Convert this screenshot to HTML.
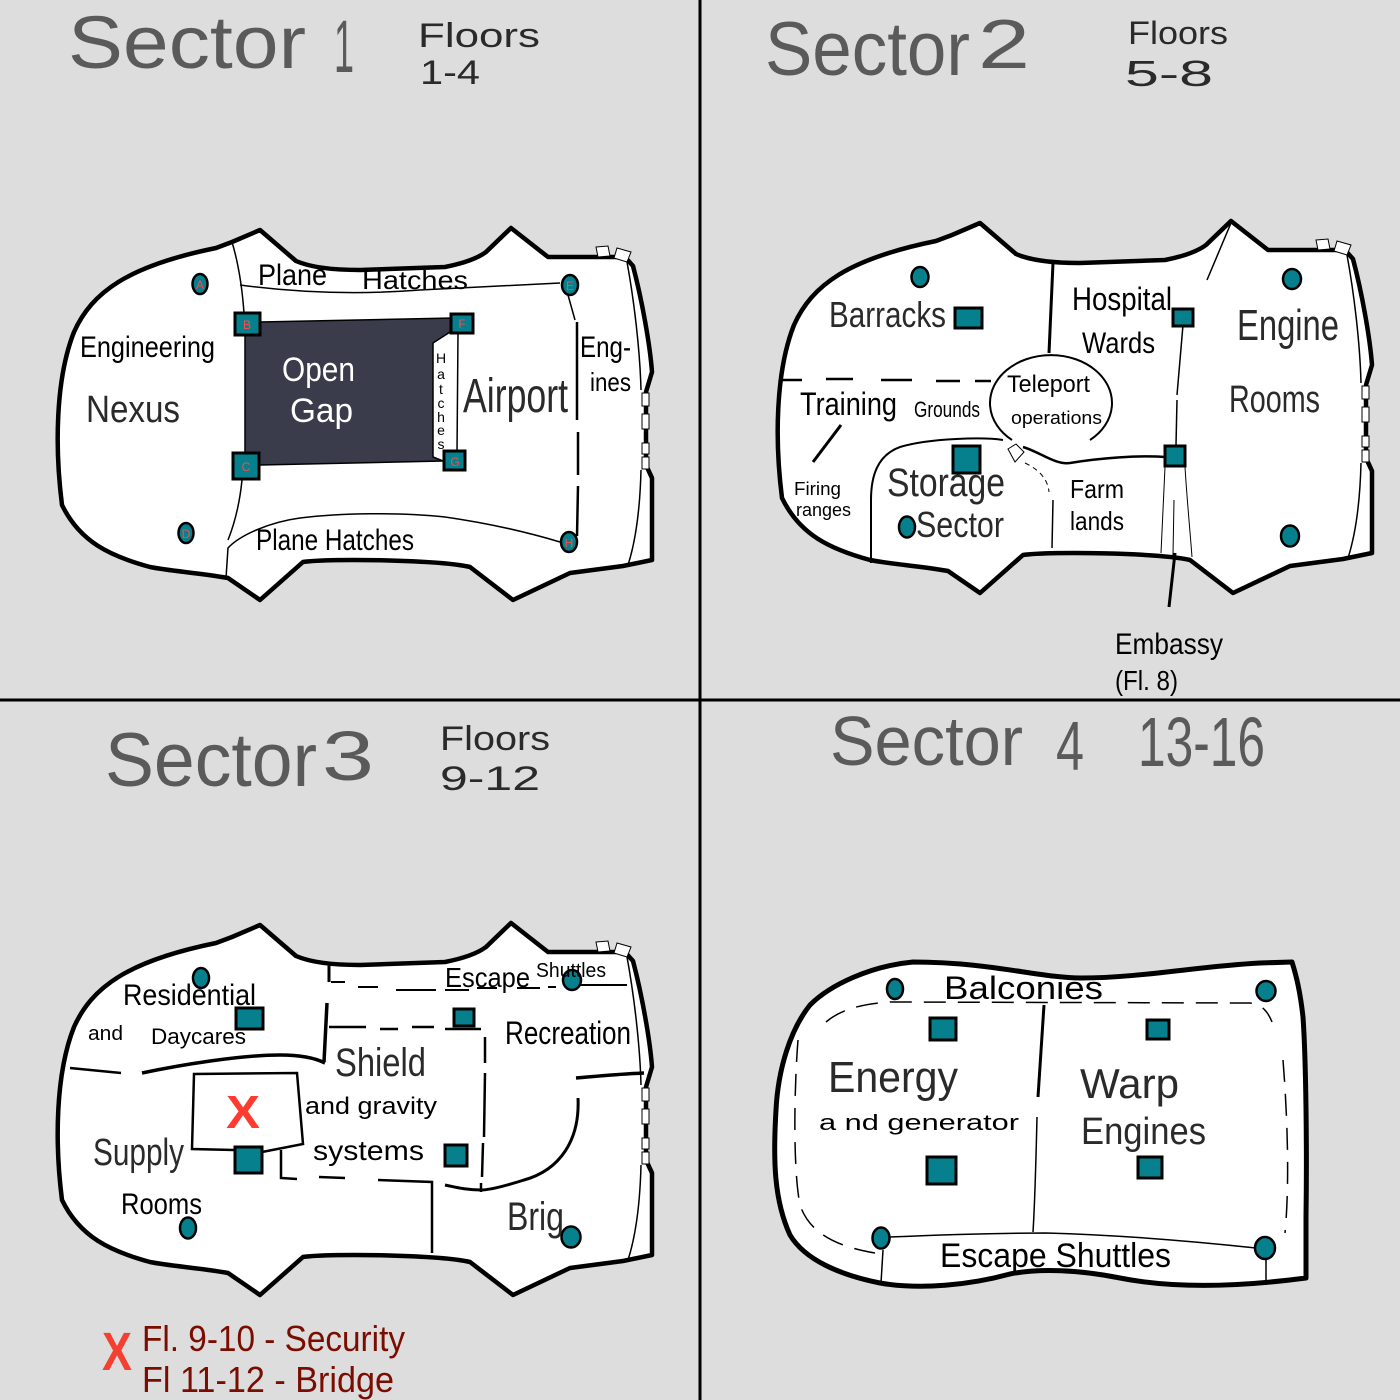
<!DOCTYPE html>
<html><head><meta charset="utf-8"><style>
html,body{margin:0;padding:0;background:#dddddd;}
svg{display:block;}
text{font-family:"Liberation Sans",sans-serif;fill:#000;}
text.t{fill:#5a5a5a;}
text.m{fill:#2a2a2a;}
</style></head><body>
<svg width="1400" height="1400" viewBox="0 0 1400 1400" xmlns="http://www.w3.org/2000/svg">
<rect width="1400" height="1400" fill="#dddddd"/>
<defs>
<g id="hull">
<path d="M62,505 C55,450 55,380 74,332 C92,292 128,266 216,248 L232,242 L260,230 L296,261 C312,268 335,270 360,270 L445,267 C465,263 478,258 486,252 L511,228 L548,257 L625,257 L633,266 C642,300 650,345 652,372 L646,392 L646,465 L652,478 L652,560 L623,566 L570,573 L513,600 L470,567 C440,560 330,558 303,562 L260,600 L228,578 C200,573 170,571 150,567 C110,556 80,542 62,505 Z" fill="#fff" stroke="#000" stroke-width="4.5" stroke-linejoin="round"/>
<path d="M627,262 C634,300 640,350 641,390 M641,470 C640,510 636,540 628,565" fill="none" stroke="#000" stroke-width="1.5"/>
<polygon points="596,247 608,246 610,256 598,257" fill="#fff" stroke="#000" stroke-width="1"/>
<polygon points="617,248 631,252 627,262 614,258" fill="#fff" stroke="#000" stroke-width="1"/>
<rect x="642" y="393" width="7" height="13" fill="#fff" stroke="#000" stroke-width="1"/>
<rect x="642" y="414" width="7" height="15" fill="#fff" stroke="#000" stroke-width="1"/>
<rect x="642" y="443" width="7" height="11" fill="#fff" stroke="#000" stroke-width="1"/>
<rect x="642" y="457" width="7" height="12" fill="#fff" stroke="#000" stroke-width="1"/>
</g>
</defs>

<!-- dividers -->
<line x1="700" y1="0" x2="700" y2="1400" stroke="#000" stroke-width="3"/>
<line x1="0" y1="700" x2="1400" y2="700" stroke="#000" stroke-width="3"/>

<!-- ================= SECTOR 1 ================= -->
<text class="t" x="68" y="68" font-size="74" textLength="238" lengthAdjust="spacingAndGlyphs">Sector</text>
<text class="t" x="334" y="72" font-size="74" textLength="20" lengthAdjust="spacingAndGlyphs">1</text>
<text class="m" x="418" y="47" font-size="34" textLength="122" lengthAdjust="spacingAndGlyphs">Floors</text>
<text class="m" x="420" y="84" font-size="34" textLength="60" lengthAdjust="spacingAndGlyphs">1-4</text>

<use href="#hull"/>
<g fill="none" stroke="#000">
<path d="M232,242 C238,262 242,285 244,313" stroke-width="1.5"/>
<path d="M240,285 Q330,297 420,290 L560,283" stroke-width="1.5"/>
<path d="M568,295 L575,320" stroke-width="1.5"/>
<path d="M577,322 L577,420 M578,432 L578,475 M578,486 L577,536" stroke-width="2.5"/>
<path d="M242,480 C240,500 236,520 228,540" stroke-width="1.5"/>
<path d="M226,578 L228,548 C240,535 270,522 300,518 C340,513 400,512 445,517 C480,522 520,530 560,542" stroke-width="1.5"/>
</g>
<path d="M260,322 L453,318 L450,332 L433,343 L433,457 L443,461 L260,465 L245,452 L245,335 Z" fill="#3b3c4b" stroke="#000" stroke-width="1.5"/>
<line x1="458" y1="333" x2="457" y2="453" stroke="#000" stroke-width="1.5"/>

<g fill="#06808c" stroke="#000" stroke-width="3">
<rect x="235" y="313" width="25" height="22"/>
<rect x="451" y="314" width="22" height="19"/>
<rect x="233" y="453" width="26" height="26"/>
<rect x="444" y="451" width="21" height="19"/>
</g>
<g fill="#06808c" stroke="#000" stroke-width="2.5">
<ellipse cx="200" cy="284" rx="7.5" ry="10"/>
<ellipse cx="186" cy="533" rx="7.5" ry="10"/>
<ellipse cx="570" cy="285" rx="8" ry="10"/>
<ellipse cx="569" cy="542" rx="8" ry="10"/>
</g>
<g font-size="12" text-anchor="middle">
<text x="200" y="289" style="fill:#ff4a4a">A</text>
<text x="247" y="329" style="fill:#ff4a4a">B</text>
<text x="246" y="471" style="fill:#ff4a4a">C</text>
<text x="186" y="538" style="fill:#ff4a4a">D</text>
<text x="570" y="290" style="fill:#ff4a4a">E</text>
<text x="462" y="328" style="fill:#ff4a4a">F</text>
<text x="455" y="466" style="fill:#ff4a4a">G</text>
<text x="569" y="547" style="fill:#ff4a4a">H</text>
</g>

<text x="80" y="357" font-size="30" textLength="135" lengthAdjust="spacingAndGlyphs">Engineering</text>
<text class="m" x="86" y="422" font-size="38" textLength="94" lengthAdjust="spacingAndGlyphs">Nexus</text>
<text x="282" y="381" font-size="34" textLength="73" lengthAdjust="spacingAndGlyphs" style="fill:#fff">Open</text>
<text x="290" y="422" font-size="34" textLength="63" lengthAdjust="spacingAndGlyphs" style="fill:#fff">Gap</text>
<text font-size="14" text-anchor="middle"><tspan x="441" y="363">H</tspan><tspan x="441" y="379">a</tspan><tspan x="441" y="394">t</tspan><tspan x="441" y="408">c</tspan><tspan x="441" y="422">h</tspan><tspan x="441" y="435">e</tspan><tspan x="441" y="449">s</tspan></text>
<text class="m" x="463" y="412" font-size="48" textLength="105" lengthAdjust="spacingAndGlyphs">Airport</text>
<text x="580" y="357" font-size="30" textLength="51" lengthAdjust="spacingAndGlyphs">Eng-</text>
<text x="590" y="391" font-size="26" textLength="41" lengthAdjust="spacingAndGlyphs">ines</text>
<text x="258" y="285" font-size="30" textLength="69" lengthAdjust="spacingAndGlyphs">Plane</text>
<text x="362" y="289" font-size="26" textLength="106" lengthAdjust="spacingAndGlyphs">Hatches</text>
<text x="256" y="550" font-size="30" textLength="158" lengthAdjust="spacingAndGlyphs">Plane  Hatches</text>

<!-- ================= SECTOR 2 ================= -->
<text class="t" x="765" y="75" font-size="76" textLength="205" lengthAdjust="spacingAndGlyphs">Sector</text>
<text class="t" x="978" y="68" font-size="70" textLength="52" lengthAdjust="spacingAndGlyphs">2</text>
<text class="m" x="1128" y="44" font-size="32" textLength="100" lengthAdjust="spacingAndGlyphs">Floors</text>
<text class="m" x="1125" y="86" font-size="36" textLength="88" lengthAdjust="spacingAndGlyphs">5-8</text>

<use href="#hull" transform="translate(720,-7)"/>
<g fill="none" stroke="#000">
<path d="M1053,263 L1049,353" stroke-width="3"/>
<path d="M1090,440 A61,48 0 1 0 1012,440" stroke-width="2"/>
<path d="M1003,440 C985,437 930,438 900,447 C878,455 871,475 871,500 L871,563" stroke-width="2"/>
<path d="M1023,447 C1040,452 1055,465 1070,463 C1100,458 1140,455 1165,457" stroke-width="2.5"/>
<path d="M1025,463 C1040,470 1048,480 1049,492" stroke-width="1" stroke-dasharray="5 4"/>
<path d="M1053,500 L1052,548" stroke-width="1.5"/>
<path d="M1183,325 L1177,395 M1177,400 L1176,445" stroke-width="1.5"/>
<path d="M1165,467 L1161,553 M1185,467 C1187,500 1190,530 1192,557 M1174,500 L1173,555" stroke-width="1"/>
<path d="M1175,553 L1169,607" stroke-width="3"/>
<path d="M1231,223 L1207,280" stroke-width="1.5"/>
<path d="M782,380 L802,380 M826,379 L853,379 M881,380 L912,380 M936,381 L960,381 M975,381 L991,381" stroke-width="2.5"/>
<path d="M841,425 L813,462" stroke-width="3"/>
</g>
<polygon points="1008,449 1016,444 1024,452 1015,462" fill="#fff" stroke="#000" stroke-width="1"/>
<g fill="#06808c" stroke="#000" stroke-width="3">
<rect x="955" y="308" width="27" height="20"/>
<rect x="1173" y="309" width="20" height="17"/>
<rect x="953" y="446" width="27" height="27"/>
<rect x="1165" y="446" width="20" height="20"/>
</g>
<g fill="#06808c" stroke="#000" stroke-width="2.5">
<ellipse cx="920" cy="277" rx="8.5" ry="10"/>
<ellipse cx="907" cy="527" rx="8" ry="10.5"/>
<ellipse cx="1292" cy="279" rx="9" ry="10"/>
<ellipse cx="1290" cy="536" rx="9" ry="10.5"/>
</g>
<text class="m" x="829" y="327" font-size="36" textLength="117" lengthAdjust="spacingAndGlyphs">Barracks</text>
<text x="1072" y="310" font-size="32" textLength="100" lengthAdjust="spacingAndGlyphs">Hospital</text>
<text x="1082" y="353" font-size="30" textLength="73" lengthAdjust="spacingAndGlyphs">Wards</text>
<text class="m" x="1237" y="340" font-size="44" textLength="102" lengthAdjust="spacingAndGlyphs">Engine</text>
<text class="m" x="1229" y="412" font-size="38" textLength="91" lengthAdjust="spacingAndGlyphs">Rooms</text>
<text x="800" y="415" font-size="32" textLength="97" lengthAdjust="spacingAndGlyphs">Training</text>
<text x="914" y="417" font-size="22" textLength="66" lengthAdjust="spacingAndGlyphs">Grounds</text>
<text x="1007" y="392" font-size="24" textLength="83" lengthAdjust="spacingAndGlyphs">Teleport</text>
<text x="1011" y="424" font-size="18" textLength="91" lengthAdjust="spacingAndGlyphs">operations</text>
<text x="794" y="495" font-size="18" textLength="47" lengthAdjust="spacingAndGlyphs">Firing</text>
<text x="796" y="516" font-size="18" textLength="55" lengthAdjust="spacingAndGlyphs">ranges</text>
<text class="m" x="887" y="496" font-size="40" textLength="118" lengthAdjust="spacingAndGlyphs">Storage</text>
<text class="m" x="916" y="537" font-size="36" textLength="88" lengthAdjust="spacingAndGlyphs">Sector</text>
<text x="1070" y="498" font-size="26" textLength="54" lengthAdjust="spacingAndGlyphs">Farm</text>
<text x="1070" y="530" font-size="26" textLength="54" lengthAdjust="spacingAndGlyphs">lands</text>
<text x="1115" y="654" font-size="30" textLength="108" lengthAdjust="spacingAndGlyphs">Embassy</text>
<text x="1115" y="690" font-size="28" textLength="63" lengthAdjust="spacingAndGlyphs">(Fl. 8)</text>

<!-- ================= SECTOR 3 ================= -->
<text class="t" x="105" y="786" font-size="76" textLength="212" lengthAdjust="spacingAndGlyphs">Sector</text>
<text class="t" x="322" y="780" font-size="70" textLength="52" lengthAdjust="spacingAndGlyphs">3</text>
<text class="m" x="440" y="750" font-size="34" textLength="110" lengthAdjust="spacingAndGlyphs">Floors</text>
<text class="m" x="440" y="790" font-size="34" textLength="100" lengthAdjust="spacingAndGlyphs">9-12</text>

<use href="#hull" transform="translate(0,695)"/>
<g fill="none" stroke="#000">
<path d="M329,965 L329,982" stroke-width="3"/>
<path d="M331,982 L345,982 M358,987 L378,987 M396,990 L436,990 M445,990 L469,990 M477,988 L497,988 M517,988 L540,988 M548,987 L556,987 M580,985 L627,985" stroke-width="2" />
<path d="M327,1003 L324,1062" stroke-width="3.5"/>
<path d="M325,1063 C315,1058 300,1055 280,1055 C240,1055 180,1065 142,1073" stroke-width="3.5"/>
<path d="M70,1068 L121,1073" stroke-width="2.5"/>
<path d="M329,1027 L366,1027 M380,1029 L398,1029 M412,1027 L434,1027 M445,1029 L481,1029" stroke-width="2.5"/>
<path d="M485,1037 L485,1063 M485,1073 L484,1137 M483,1143 L482,1177 M481,1183 L481,1192" stroke-width="2.5"/>
<path d="M576,1078 C600,1076 620,1074 644,1073" stroke-width="3.5"/>
<path d="M578,1098 C580,1140 560,1170 524,1180 C505,1186 490,1190 481,1190 C465,1190 455,1187 445,1185" stroke-width="3"/>
<path d="M378,1180 L432,1182 L432,1253" stroke-width="2.5"/>
<path d="M281,1150 L281,1178 L297,1179 M319,1177 L345,1178" stroke-width="2.5"/>
<path d="M234,1150 L192,1149 L194,1074 L297,1073 L303,1144 L262,1152" stroke-width="2.5"/>
</g>
<g fill="#06808c" stroke="#000" stroke-width="3">
<rect x="236" y="1008" width="27" height="21"/>
<rect x="454" y="1009" width="20" height="17"/>
<rect x="235" y="1147" width="27" height="26"/>
<rect x="445" y="1145" width="22" height="21"/>
</g>
<g fill="#06808c" stroke="#000" stroke-width="2.5">
<ellipse cx="201" cy="978" rx="8" ry="10"/>
<ellipse cx="572" cy="980" rx="9" ry="10"/>
<ellipse cx="188" cy="1228" rx="8" ry="10.5"/>
<ellipse cx="571" cy="1237" rx="9.5" ry="10.5"/>
</g>
<text x="226" y="1128" font-size="46" font-weight="bold" textLength="34" lengthAdjust="spacingAndGlyphs" style="fill:#ff3b30">X</text>
<text x="123" y="1005" font-size="30" textLength="133" lengthAdjust="spacingAndGlyphs">Residential</text>
<text x="88" y="1040" font-size="20" textLength="35" lengthAdjust="spacingAndGlyphs">and</text>
<text x="151" y="1044" font-size="22" textLength="95" lengthAdjust="spacingAndGlyphs">Daycares</text>
<text x="445" y="987" font-size="28" textLength="85" lengthAdjust="spacingAndGlyphs">Escape</text>
<text x="536" y="977" font-size="20" textLength="70" lengthAdjust="spacingAndGlyphs">Shuttles</text>
<text x="505" y="1044" font-size="32" textLength="126" lengthAdjust="spacingAndGlyphs">Recreation</text>
<text class="m" x="335" y="1076" font-size="40" textLength="91" lengthAdjust="spacingAndGlyphs">Shield</text>
<text x="305" y="1114" font-size="24" textLength="132" lengthAdjust="spacingAndGlyphs">and gravity</text>
<text x="313" y="1160" font-size="28" textLength="111" lengthAdjust="spacingAndGlyphs">systems</text>
<text class="m" x="93" y="1165" font-size="38" textLength="91" lengthAdjust="spacingAndGlyphs">Supply</text>
<text x="121" y="1214" font-size="30" textLength="81" lengthAdjust="spacingAndGlyphs">Rooms</text>
<text class="m" x="507" y="1230" font-size="40" textLength="57" lengthAdjust="spacingAndGlyphs">Brig</text>

<text x="102" y="1370" font-size="54" font-weight="bold" textLength="30" lengthAdjust="spacingAndGlyphs" style="fill:#f44030">X</text>
<text x="142" y="1351" font-size="36" textLength="263" lengthAdjust="spacingAndGlyphs" style="fill:#7a0c00">Fl. 9-10 - Security</text>
<text x="142" y="1392" font-size="36" textLength="252" lengthAdjust="spacingAndGlyphs" style="fill:#7a0c00">Fl 11-12 - Bridge</text>

<!-- ================= SECTOR 4 ================= -->
<text class="t" x="830" y="765" font-size="70" textLength="193" lengthAdjust="spacingAndGlyphs">Sector</text>
<text class="t" x="1056" y="770" font-size="70" textLength="28" lengthAdjust="spacingAndGlyphs">4</text>
<text class="t" x="1138" y="766" font-size="70" textLength="127" lengthAdjust="spacingAndGlyphs">13-16</text>

<path d="M913,962 C870,966 830,985 810,1005 C790,1030 778,1070 776,1110 C773,1160 774,1200 790,1235 C805,1260 840,1275 880,1283 C920,1290 970,1285 1010,1274 C1040,1268 1080,1270 1120,1278 C1170,1288 1230,1288 1306,1278 L1306,1217 C1307,1150 1306,1060 1303,1017 C1300,990 1296,975 1292,962 L1260,963 C1200,966 1140,978 1081,978 C1040,978 990,962 913,962 Z" fill="#fff" stroke="#000" stroke-width="5" stroke-linejoin="round"/>
<g fill="none" stroke="#000">
<path d="M826,1022 C840,1010 860,1004 890,1002 L1250,1003 C1262,1004 1268,1012 1272,1022 M1283,1060 C1287,1110 1290,1180 1285,1233 M798,1040 C794,1090 793,1170 800,1205 C810,1235 840,1247 875,1253" stroke-width="1.5" stroke-dasharray="22 12"/>
<path d="M889,1237 C960,1234 1000,1233 1046,1233 C1120,1235 1200,1242 1256,1248" stroke-width="1.5"/>
<path d="M883,1250 L881,1283 M1266,1258 L1266,1285" stroke-width="1.5"/>
<path d="M1044,1005 C1042,1040 1040,1070 1038,1097" stroke-width="3"/>
<path d="M1037,1117 C1036,1160 1035,1200 1033,1232" stroke-width="1.5"/>
</g>
<g fill="#06808c" stroke="#000" stroke-width="3">
<rect x="930" y="1018" width="26" height="22"/>
<rect x="1147" y="1020" width="22" height="19"/>
<rect x="927" y="1157" width="29" height="27"/>
<rect x="1138" y="1157" width="24" height="21"/>
</g>
<g fill="#06808c" stroke="#000" stroke-width="2.5">
<ellipse cx="895" cy="989" rx="8" ry="10"/>
<ellipse cx="1266" cy="991" rx="9.5" ry="10"/>
<ellipse cx="881" cy="1238" rx="8.5" ry="10.5"/>
<ellipse cx="1265" cy="1248" rx="10" ry="11"/>
</g>
<text x="944" y="999" font-size="32" textLength="159" lengthAdjust="spacingAndGlyphs">Balconies</text>
<text class="m" x="828" y="1092" font-size="44" textLength="130" lengthAdjust="spacingAndGlyphs">Energy</text>
<text x="819" y="1130" font-size="22" textLength="200" lengthAdjust="spacingAndGlyphs">a nd  generator</text>
<text class="m" x="1080" y="1098" font-size="42" textLength="99" lengthAdjust="spacingAndGlyphs">Warp</text>
<text class="m" x="1081" y="1144" font-size="38" textLength="125" lengthAdjust="spacingAndGlyphs">Engines</text>
<text x="940" y="1267" font-size="34" textLength="231" lengthAdjust="spacingAndGlyphs">Escape  Shuttles</text>
</svg>
</body></html>
